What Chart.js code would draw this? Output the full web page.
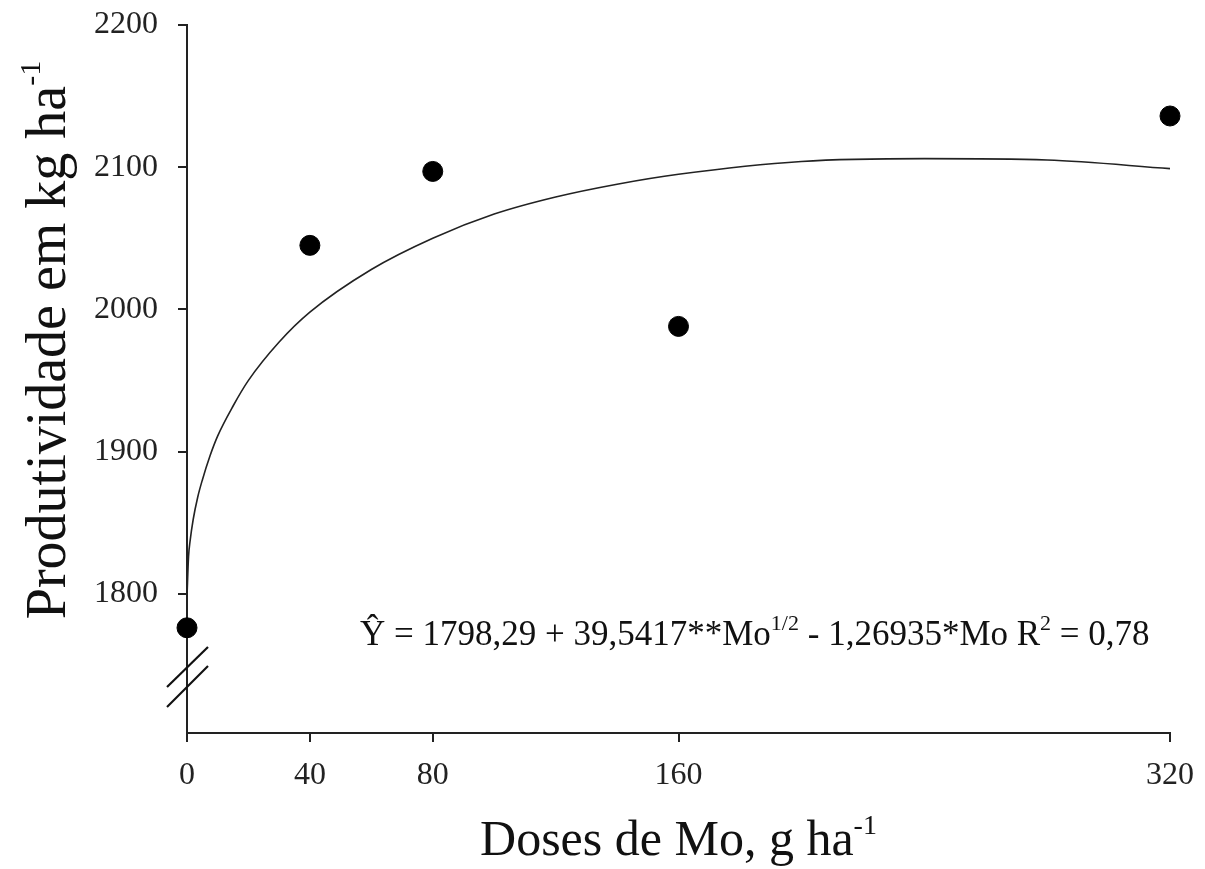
<!DOCTYPE html>
<html>
<head>
<meta charset="utf-8">
<script src="https://cdn.jsdelivr.net/npm/chart.js@4.4.0/dist/chart.umd.min.js"></script>
<style>
  html, body { margin: 0; padding: 0; background: #fff; }
  #wrap { width: 1205px; height: 869px; }
</style>
</head>
<body>
<div id="wrap"><canvas id="myChart" width="1205" height="869"></canvas></div>
<script>
// observed means
const doses = [0, 40, 80, 160, 320];
const yields = [1776, 2045, 2097, 1988, 2136];

// fitted curve
const fitDoses = [0, 0.5, 1, 2, 3.5, 5, 7.5, 10, 15, 20, 30, 40, 60, 80, 100, 120, 140, 160, 200, 240, 280, 320];
const fitYields = [1798, 1826, 1837, 1852, 1868, 1880, 1897, 1911, 1932, 1950, 1977, 1998, 2028, 2050, 2067, 2079, 2088, 2095, 2104, 2106, 2105, 2099];

const xTicks = [0, 40, 80, 160, 320];
const yTicks = [1800, 1900, 2000, 2100, 2200];

const serif = "'Liberation Serif', 'Times New Roman', serif";

// titles, equation and axis break
const extras = {
  id: 'extras',
  afterDraw(chart) {
    const c = chart.ctx;
    const area = chart.chartArea;
    c.save();
    c.fillStyle = '#111';

    // y title
    c.save();
    c.translate(50, 340);
    c.rotate(-Math.PI / 2);
    c.font = '56px ' + serif;
    const t1 = 'Produtividade em kg ha';
    const w1 = c.measureText(t1).width;
    c.font = '30px ' + serif;
    const s1 = c.measureText('-1').width;
    let x0 = -(w1 + s1) / 2;
    c.textBaseline = 'middle';
    c.font = '56px ' + serif;
    c.fillText(t1, x0, 0);
    c.font = '30px ' + serif;
    c.fillText('-1', x0 + w1, -18);
    c.restore();

    // x title
    c.font = '50px ' + serif;
    c.textBaseline = 'alphabetic';
    const t2 = 'Doses de Mo, g ha';
    const w2 = c.measureText(t2).width;
    c.font = '28px ' + serif;
    const s2 = c.measureText('-1').width;
    let xs = (area.left + area.right) / 2 - (w2 + s2) / 2;
    c.font = '50px ' + serif;
    c.fillText(t2, xs, 855);
    c.font = '28px ' + serif;
    c.fillText('-1', xs + w2, 834);

    // equation
    const parts = [
      ['\u0176 = 1798,29 + 39,5417**Mo', 0],
      ['1/2', 1],
      [' - 1,26935*Mo R', 0],
      ['2', 1],
      [' = 0,78', 0]
    ];
    let ex = 360;
    const ey = 645;
    parts.forEach(p => {
      c.font = (p[1] ? '22px ' : '35px ') + serif;
      c.fillText(p[0], ex, p[1] ? ey - 15 : ey);
      ex += c.measureText(p[0]).width;
    });

    // axis break marks
    c.strokeStyle = '#111';
    c.lineWidth = 2.2;
    const bx = area.left;
    [[687, 647], [707, 666]].forEach(([ya, yb]) => {
      c.beginPath();
      c.moveTo(bx - 20, ya);
      c.lineTo(bx + 21, yb);
      c.stroke();
    });
    c.restore();
  }
};

new Chart(document.getElementById('myChart').getContext('2d'), {
  type: 'scatter',
  data: {
    datasets: [{
      type: 'line',
      data: fitDoses.map((d, i) => ({ x: d, y: fitYields[i] })),
      borderColor: '#222',
      borderWidth: 1.6,
      pointRadius: 0,
      cubicInterpolationMode: 'monotone',
      fill: false,
      clip: false
    }, {
      data: doses.map((d, i) => ({ x: d, y: yields[i] })),
      backgroundColor: '#000',
      borderColor: '#000',
      pointRadius: 10,
      clip: false
    }]
  },
  plugins: [extras],
  options: {
    responsive: false,
    animation: false,
    layout: { padding: { top: 25, right: 35, left: 0, bottom: 0 } },
    plugins: { legend: { display: false }, tooltip: { enabled: false } },
    scales: {
      x: {
        type: 'linear',
        min: 0,
        max: 320,
        afterBuildTicks: s => { s.ticks = xTicks.map(v => ({ value: v })); },
        afterFit: s => { s.height = 136; s.paddingLeft = 0; s.paddingRight = 0; },
        border: { display: true, color: '#222', width: 2 },
        grid: { display: true, drawOnChartArea: false, drawTicks: true, tickLength: 9, color: '#222', lineWidth: 2 },
        ticks: { color: '#222', padding: 14, font: { family: serif, size: 32 }, maxRotation: 0, callback: v => String(v) }
      },
      y: {
        type: 'linear',
        min: 1702,
        max: 2200,
        afterBuildTicks: s => { s.ticks = yTicks.map(v => ({ value: v })); },
        afterFit: s => { s.width = 187; s.paddingTop = 0; s.paddingBottom = 0; },
        border: { display: true, color: '#222', width: 2 },
        grid: { display: true, drawOnChartArea: false, drawTicks: true, tickLength: 9, color: '#222', lineWidth: 2 },
        ticks: { color: '#222', padding: 20, font: { family: serif, size: 32 }, callback: v => String(v) }
      }
    }
  }
});
</script>
</body>
</html>
